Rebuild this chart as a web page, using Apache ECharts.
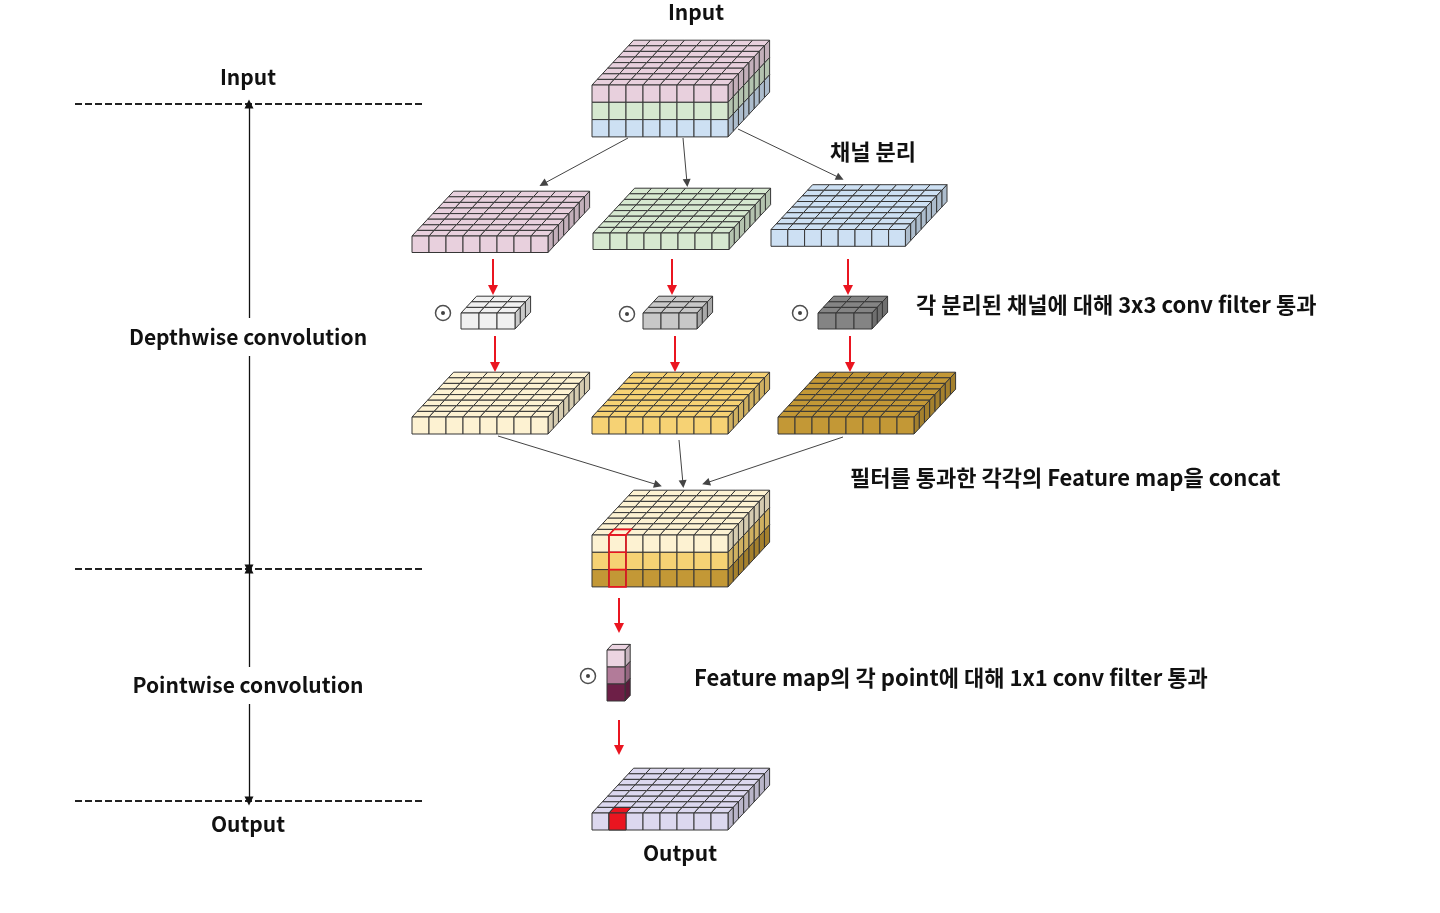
<!DOCTYPE html>
<html>
<head>
<meta charset="UTF-8" />
<title>Depthwise separable convolution</title>
<script src="https://cdn.jsdelivr.net/npm/echarts@6/dist/echarts.min.js"></script>
<style>
html, body { margin: 0; padding: 0; background: #fff; }
#chart { width: 1440px; height: 913px; }
</style>
</head>
<body>
<div id="chart"></div>
<script>
// 블록(텐서) 정의: 열, 행(깊이), 층(채널)
var blockNames  = ['input', 'sliceR', 'sliceG', 'sliceB', 'filter1', 'filter2', 'filter3',
                   'mapA', 'mapB', 'mapC', 'concat', 'pointFilter', 'output'];
var blockCols   = [8, 8, 8, 8, 3, 3, 3, 8, 8, 8, 8, 1, 8];
var blockRows   = [8, 8, 8, 8, 3, 3, 3, 8, 8, 8, 8, 1, 8];
var blockLayers = [3, 1, 1, 1, 1, 1, 1, 1, 1, 1, 3, 3, 1];
// 앞면 왼쪽 위 꼭짓점 (축 단위)
var blockX = [592, 412, 593, 771, 461, 643, 818, 412, 592, 778, 592, 607, 592];
var blockY = [85, 236, 233, 229.5, 313, 313, 313, 417, 417, 417, 535, 650, 813];

// 텍스트
var sideLabels = ['Input', 'Depthwise convolution', 'Pointwise convolution', 'Output'];
var sideLabelY = [77, 337, 685, 824];
var stageY = [104, 569, 801];
var noteTexts = ['채널 분리',
                 '각 분리된 채널에 대해 3x3 conv filter 통과',
                 '필터를 통과한 각각의 Feature map을 concat',
                 'Feature map의 각 point에 대해 1x1 conv filter 통과'];
var noteX = [873, 916, 850, 694];
var noteY = [152, 305, 478, 678];

// 화살표 (시작, 끝)
var splitArrows  = [[[628, 138], [543, 184]], [[683, 138], [687, 183]], [[738, 129], [840, 178]]];
var concatArrows = [[[498, 436], [658, 485]], [[679, 440], [683, 484]], [[843, 437], [706, 483]]];
var redArrows = [[[493, 259], [493, 290]], [[672, 259], [672, 290]], [[848, 259], [848, 290]],
                 [[495, 336], [495, 367]], [[675, 336], [675, 367]], [[850, 336], [850, 367]],
                 [[619, 598], [619, 628]], [[619, 720], [619, 750]]];
var odotPoints = [[443, 313], [627, 314], [800, 313], [588, 676]];

// 스타일
var EDGE = '#363636';
var DX = 5.2, DY = -5.6;
var blockStyle = [
  { w: 17, h: 17.3, colors: ['#e8d0dd', '#d6e8d0', '#cde0f3'] },
  { w: 17, h: 16.5, colors: ['#e8d0dd'] },
  { w: 17, h: 16.5, colors: ['#d6e8d0'] },
  { w: 16.8, h: 16.8, colors: ['#cde0f3'] },
  { w: 18, h: 16, colors: ['#f0f0f0'] },
  { w: 18, h: 16, colors: ['#c8c8c8'] },
  { w: 18, h: 16, colors: ['#848484'] },
  { w: 17, h: 17, colors: ['#fdf2d2'] },
  { w: 17, h: 17, colors: ['#f6d274'] },
  { w: 17, h: 17, colors: ['#c39836'] },
  { w: 17, h: 17.3, colors: ['#fdf2d2', '#f6d274', '#c39836'] },
  { w: 18, h: 17, colors: ['#ebd4e1', '#b27b99', '#6d1f47'] },
  { w: 17, h: 17, colors: ['#dcd8ef'] }
];
var RED = '#ea1520';
var FONT = '"Noto Sans CJK KR", "Noto Sans", sans-serif';

function shade(hex, k) {
  var n = parseInt(hex.slice(1), 16);
  var r = Math.round(((n >> 16) & 255) * k);
  var g = Math.round(((n >> 8) & 255) * k);
  var b = Math.round((n & 255) * k);
  return 'rgb(' + r + ',' + g + ',' + b + ')';
}

function renderBlock(params, api) {
  var i = api.value(0);
  var st = blockStyle[i];
  var w = st.w, h = st.h;
  var x0 = blockX[i], y0 = blockY[i];
  var cols = blockCols[i], rows = blockRows[i], layers = blockLayers[i];
  var children = [];
  function poly(pts, fill, stroke, lw) {
    children.push({
      type: 'polygon',
      shape: { points: pts.map(function (p) { return api.coord(p); }) },
      style: { fill: fill, stroke: stroke || EDGE, lineWidth: lw || 1 }
    });
  }
  function topCell(c, r) {
    return [[x0 + c * w + r * DX, y0 + r * DY], [x0 + (c + 1) * w + r * DX, y0 + r * DY],
            [x0 + (c + 1) * w + (r + 1) * DX, y0 + (r + 1) * DY], [x0 + c * w + (r + 1) * DX, y0 + (r + 1) * DY]];
  }
  function frontCell(c, l) {
    return [[x0 + c * w, y0 + l * h], [x0 + (c + 1) * w, y0 + l * h],
            [x0 + (c + 1) * w, y0 + (l + 1) * h], [x0 + c * w, y0 + (l + 1) * h]];
  }
  var r, c, l;
  for (r = rows - 1; r >= 0; r--) {
    for (c = 0; c < cols; c++) poly(topCell(c, r), st.colors[0]);
  }
  var xr = x0 + cols * w;
  for (l = 0; l < layers; l++) {
    for (r = rows - 1; r >= 0; r--) {
      poly([[xr + r * DX, y0 + l * h + r * DY], [xr + (r + 1) * DX, y0 + l * h + (r + 1) * DY],
            [xr + (r + 1) * DX, y0 + (l + 1) * h + (r + 1) * DY], [xr + r * DX, y0 + (l + 1) * h + r * DY]],
           shade(st.colors[l], 0.84));
    }
  }
  for (l = 0; l < layers; l++) {
    for (c = 0; c < cols; c++) poly(frontCell(c, l), st.colors[l]);
  }
  if (blockNames[i] === 'concat') {
    poly(topCell(1, 0), 'none', RED, 1.6);
    poly([[x0 + w, y0], [x0 + 2 * w, y0], [x0 + 2 * w, y0 + layers * h], [x0 + w, y0 + layers * h]], 'none', RED, 1.6);
    for (l = 1; l < layers; l++) {
      poly([[x0 + w, y0 + l * h], [x0 + 2 * w, y0 + l * h]], 'none', RED, 1.6);
    }
  }
  if (blockNames[i] === 'output') {
    poly(topCell(1, 0), RED);
    poly(frontCell(1, 0), RED);
  }
  return { type: 'group', children: children };
}

function renderText(params, api) {
  var i = api.value(0);
  var kind = api.value(1);
  var text, x, y, align, size;
  if (kind === 0) {
    text = sideLabels[i]; x = 248; y = sideLabelY[i]; align = 'center'; size = 21;
  } else if (kind === 1) {
    text = noteTexts[i]; x = noteX[i]; y = noteY[i]; align = i === 0 ? 'center' : 'left'; size = 22;
  } else {
    text = i === 0 ? 'Input' : 'Output'; x = i === 0 ? 696 : 680; y = i === 0 ? 12 : 853; align = 'center'; size = 21;
  }
  var p = api.coord([x, y]);
  return {
    type: 'text',
    x: p[0], y: p[1],
    style: {
      text: text, textAlign: align, textVerticalAlign: 'middle',
      font: 'bold ' + size + 'px ' + FONT, fill: '#111'
    }
  };
}

var blockData = blockNames.map(function (n, i) { return [i]; });
var textData = [];
sideLabels.forEach(function (t, i) { textData.push([i, 0]); });
noteTexts.forEach(function (t, i) { textData.push([i, 1]); });
textData.push([0, 2], [1, 2]);

var dashData = stageY.map(function (y) { return { coords: [[75, y], [422, y]] }; });
var stageArrows = [
  { coords: [[249, 318], [249, 104]] }, { coords: [[249, 356], [249, 569]] },
  { coords: [[249, 667], [249, 569]] }, { coords: [[249, 704], [249, 801]] }
];

var chart = echarts.init(document.getElementById('chart'));
chart.setOption({
  animation: false,
  backgroundColor: '#ffffff',
  grid: { left: 0, right: 0, top: 0, bottom: 0 },
  xAxis: { type: 'value', min: 0, max: 1440, show: false },
  yAxis: { type: 'value', min: 0, max: 913, inverse: true, show: false },
  series: [
    {
      type: 'custom', name: 'blocks', renderItem: renderBlock, data: blockData,
      clip: false, z: 2, silent: true
    },
    {
      type: 'lines', name: 'stage', coordinateSystem: 'cartesian2d', z: 1, silent: true,
      symbol: ['none', 'none'],
      lineStyle: { color: '#222', width: 2, type: [7, 3], opacity: 1 },
      data: dashData
    },
    {
      type: 'lines', name: 'stageArrows', coordinateSystem: 'cartesian2d', z: 3, silent: true,
      symbol: ['none', 'triangle'], symbolSize: [8, 9],
      lineStyle: { color: '#111', width: 1.3, opacity: 1 },
      data: stageArrows
    },
    {
      type: 'lines', name: 'flow', coordinateSystem: 'cartesian2d', z: 3, silent: true,
      symbol: ['none', 'triangle'], symbolSize: [7, 8],
      lineStyle: { color: '#444', width: 1, opacity: 1 },
      itemStyle: { color: '#111' },
      data: splitArrows.concat(concatArrows).map(function (a) { return { coords: a }; })
    },
    {
      type: 'lines', name: 'red', coordinateSystem: 'cartesian2d', z: 3, silent: true,
      symbol: ['none', 'triangle'], symbolSize: [8, 10],
      lineStyle: { color: RED, width: 2, opacity: 1 },
      data: redArrows.map(function (a) { return { coords: a }; })
    },
    {
      type: 'scatter', name: 'odot', z: 3, silent: true,
      symbol: 'circle', symbolSize: 15,
      itemStyle: { color: '#fff', borderColor: '#222', borderWidth: 1.5 },
      data: odotPoints
    },
    {
      type: 'scatter', name: 'dot', z: 4, silent: true,
      symbol: 'circle', symbolSize: 4,
      itemStyle: { color: '#111' },
      data: odotPoints
    },
    {
      type: 'custom', name: 'texts', renderItem: renderText, data: textData,
      clip: false, z: 5, silent: true
    }
  ]
});
</script>
</body>
</html>
